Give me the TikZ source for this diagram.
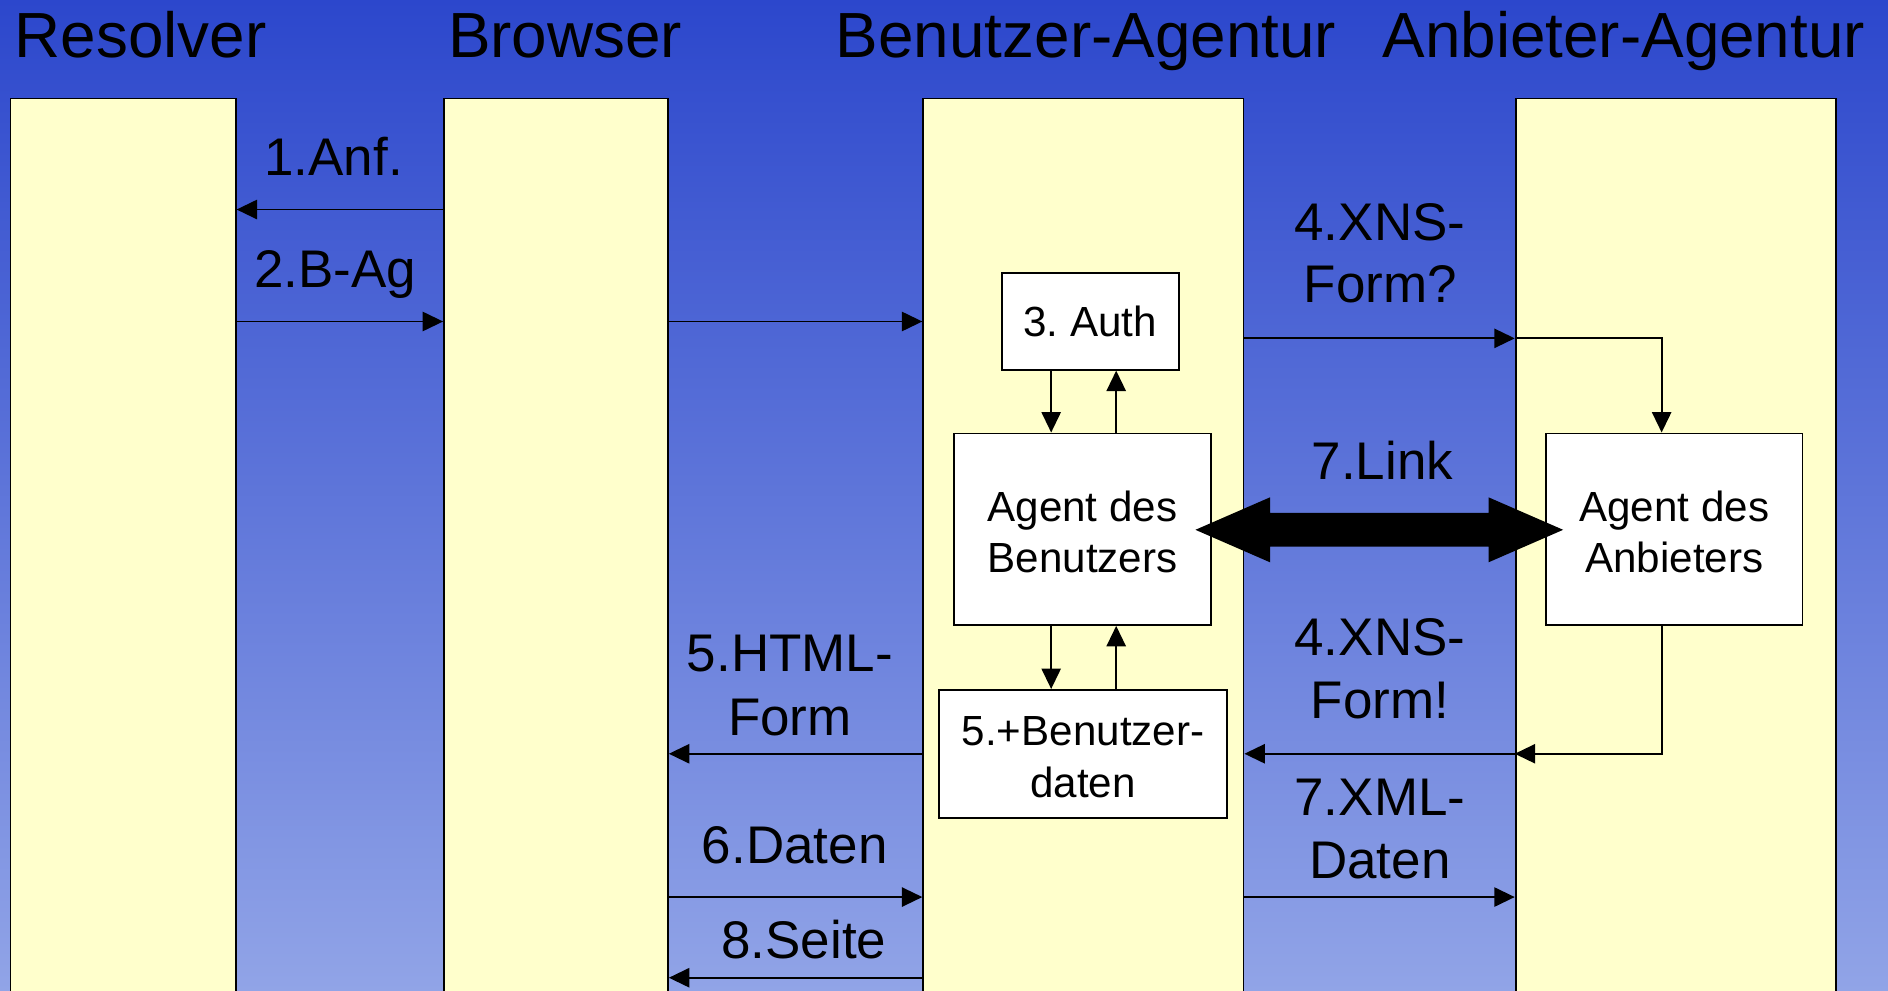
\documentclass[tikz,border=0pt]{standalone}
\usepackage{fontspec}
\setmainfont{Liberation Sans}
\usetikzlibrary{arrows.meta,calc}
\definecolor{bgtop}{RGB}{44,71,204}
\definecolor{bgbot}{RGB}{145,164,231}
\definecolor{lanefill}{RGB}{255,255,204}
\frenchspacing
\begin{document}
\begin{tikzpicture}[x=1pt,y=-1pt,
  lane/.style={draw=black, line width=1.5pt, fill=lanefill, anchor=north west, minimum height=780pt, inner sep=0pt},
  box/.style={draw=black, line width=1.6pt, fill=white, inner sep=0pt, align=center, font=\fontsize{35}{42.5}\selectfont},
  title/.style={anchor=base west, inner sep=0pt, font=\fontsize{53}{60}\selectfont},
  lbl/.style={anchor=base, inner sep=0pt, font=\fontsize{44}{52}\selectfont},
  arr/.style={line width=1.6pt, -{Triangle[length=17pt,width=16pt]}},
  ln/.style={line width=1.6pt}]
\useasboundingbox (0,0) rectangle (1568,823);
\clip (0,0) rectangle (1568,823);
\shade[top color=bgtop,bottom color=bgbot] (0,0) rectangle (1568,823);
% titles
\node[title] (tRes) at (12,48) {Resolver};
\node[title] (tBro) at (372,48) {Browser};
\node[title] (tBen) at (694,48) {Benutzer-Agentur};
\node[title] (tAnb) at (1148,48) {Anbieter-Agentur};
% lanes
\node[lane, minimum width=187pt] (res) at (8,81) {};
\node[lane, minimum width=186pt] (bro) at (368,81) {};
\node[lane, minimum width=266pt] (ben) at (766,81) {};
\node[lane, minimum width=266pt] (anb) at (1258,81) {};
% boxes
\node[box, minimum width=147pt, minimum height=80pt] (auth) at (905.5,267) {3. Auth};
\node[box, minimum width=214pt, minimum height=159pt] (agB) at (899,439.5) {\strut Agent des\\Benutzers};
\node[box, minimum width=213pt, minimum height=159pt] (agA) at (1390.5,439.5) {\strut Agent des\\Anbieters};
\node[box, minimum width=239pt, minimum height=106pt] (bdat) at (899.5,626) {\strut 5.+Benutzer-\\daten};
% row / column helpers
\coordinate (r174) at (0,174);
\coordinate (r267) at (0,267);
\coordinate (r281) at (0,281);
\coordinate (r626) at (0,626);
\coordinate (r745) at (0,745);
\coordinate (r812) at (0,812);
\coordinate (cxa) at (873,0);
\coordinate (cxb) at (927,0);
\coordinate (cxc) at (1380,0);
% connectors
\draw[arr] (bro.west |- r174) -- (res.east |- r174);
\draw[arr] (res.east |- r267) -- (bro.west |- r267);
\draw[arr] (bro.east |- r267) -- (ben.west |- r267);
\draw[arr] (ben.east |- r281) -- (anb.west |- r281);
\draw[arr] (anb.west |- r281) -| (agA.north -| cxc);
\draw[arr] (auth.south -| cxa) -- (agB.north -| cxa);
\draw[arr] (agB.north -| cxb) -- (auth.south -| cxb);
\draw[arr] (agB.south -| cxa) -- (bdat.north -| cxa);
\draw[arr] (bdat.north -| cxb) -- (agB.south -| cxb);
\draw[arr] (agA.south -| cxc) |- (anb.west |- r626);
\draw[arr] (anb.west |- r626) -- (ben.east |- r626);
\draw[arr] (ben.west |- r626) -- (bro.east |- r626);
\draw[arr] (bro.east |- r745) -- (ben.west |- r745);
\draw[arr] (ben.east |- r745) -- (anb.west |- r745);
\draw[arr] (ben.west |- r812) -- (bro.east |- r812);
% big double arrow (7.Link)
\coordinate (lt) at ($(agB.east)+(-14,0.5)$);
\coordinate (rt) at ($(agA.west)+(15,0.5)$);
\fill (lt) -- ++(62,-27) -- ++(0,13) -- ($(rt)+(-62,-14)$) -- ++(0,-13) -- (rt)
  -- ++(-62,27) -- ++(0,-13) -- ($(lt)+(62,14)$) -- ++(0,13) -- cycle;
% labels
\node[lbl] (l1) at (277,145.5) {1.Anf.};
\node[lbl] (l2) at (278.5,238.5) {2.B-Ag};
\node[lbl] (l4a) at (1146,200) {4.XNS-};
\node[lbl] (l4b) at (1146.5,251.5) {Form?};
\node[lbl] (l7) at (1148,398.5) {7.Link};
\node[lbl] (l4c) at (1146,544.5) {4.XNS-};
\node[lbl] (l4d) at (1146,596.5) {Form!};
\node[lbl] (l7a) at (1146,677.5) {7.XML-};
\node[lbl] (l7b) at (1146,730) {Daten};
\node[lbl] (l5a) at (656,557.5) {5.HTML-};
\node[lbl] (l5b) at (656,610.5) {Form};
\node[lbl] (l6) at (660,717) {6.Daten};
\node[lbl] (l8) at (667.5,796) {8.Seite};
\end{tikzpicture}
\end{document}
